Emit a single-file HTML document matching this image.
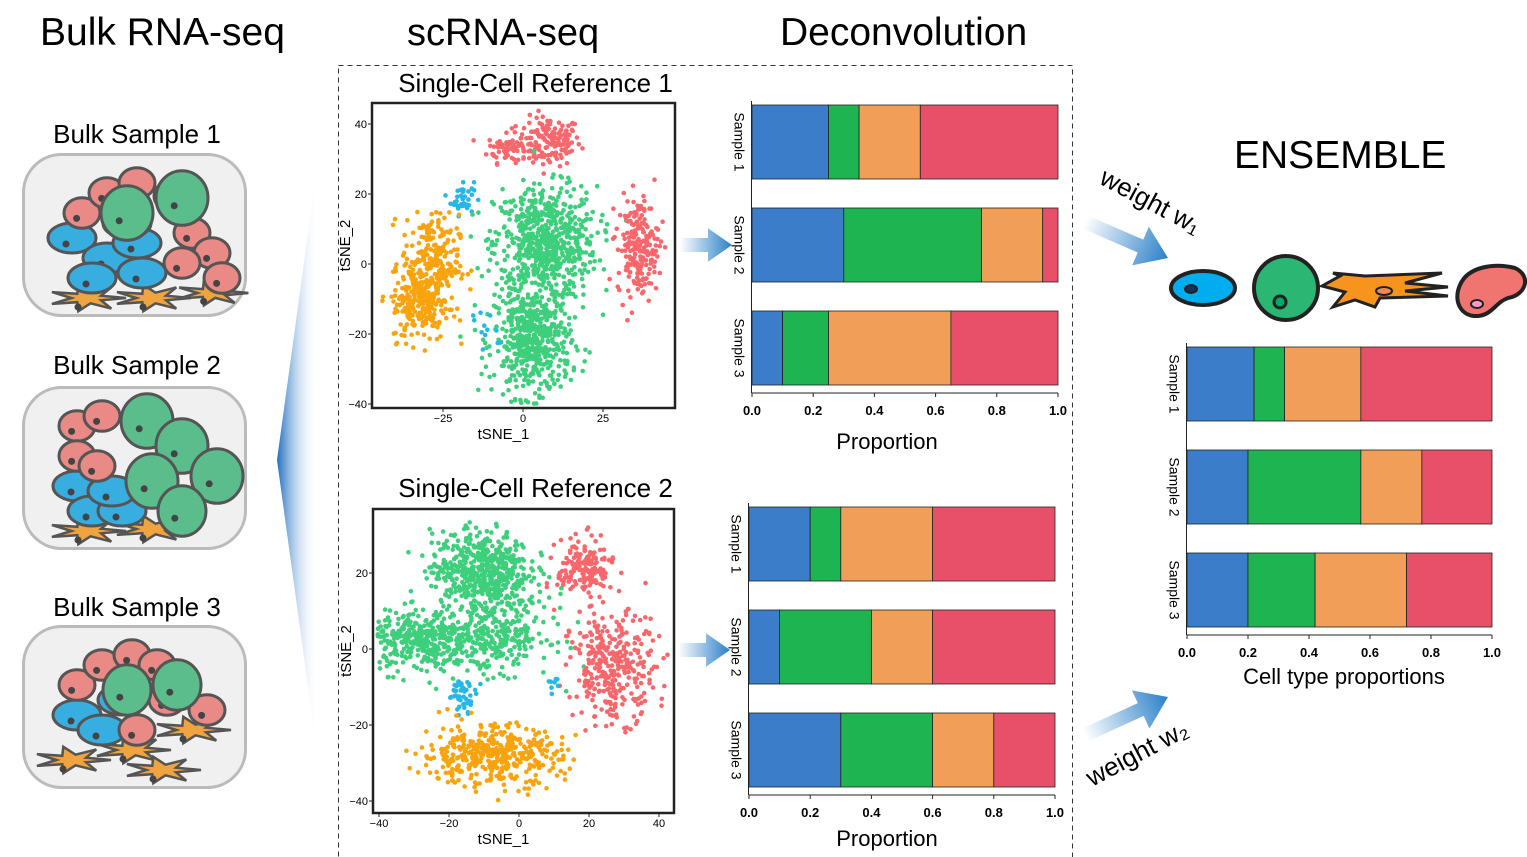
<!DOCTYPE html>
<html><head><meta charset="utf-8"><style>
body{margin:0;background:#fff}
svg{display:block;font-family:"Liberation Sans",sans-serif}
</style></head><body>
<svg id="fig" width="1527" height="857" viewBox="0 0 1527 857">
<defs>
<linearGradient id="triG" x1="0" x2="1" y1="0" y2="0"><stop offset="0" stop-color="#1f6fc0"/><stop offset="1" stop-color="#ffffff" stop-opacity="0"/></linearGradient>
<linearGradient id="arrG" x1="0" x2="1"><stop offset="0" stop-color="#ffffff"/><stop offset="1" stop-color="#2a80c8"/></linearGradient>
</defs>
<text x="40" y="45" font-size="39">Bulk RNA-seq</text>
<text x="407" y="45" font-size="38">scRNA-seq</text>
<text x="780" y="45" font-size="39">Deconvolution</text>
<text x="1234" y="168" font-size="39">ENSEMBLE</text>
<rect x="338.5" y="65.5" width="734" height="800" fill="none" stroke="#333" stroke-dasharray="5,4" stroke-width="1"/>
<polygon points="318,160 277,460 318,760" fill="url(#triG)"/>
<g id="bulk"></g>
<g id="tsne"></g>
<g id="bars"></g>
<g id="extra"></g>
</svg>
<script>
const NS="http://www.w3.org/2000/svg";
function mk(tag,attrs,parent,txt){const e=document.createElementNS(NS,tag);for(const k in attrs)e.setAttribute(k,attrs[k]);if(txt!==undefined)e.textContent=txt;parent.appendChild(e);return e;}

// ---------- bar chart data ----------
const cellTypes=["blue","green","orange","red"];
const barColors=["#3b7dc8","#1fb452","#f19e58","#e8506a"];
const sampleNames=["Sample 1","Sample 2","Sample 3"];
const axisTicks=[0,0.2,0.4,0.6,0.8,1.0];
const tickLabels=["0.0","0.2","0.4","0.6","0.8","1.0"];
const ref1Values=[[0.25,0.10,0.20,0.45],[0.30,0.45,0.20,0.05],[0.10,0.15,0.40,0.35]];
const ref2Values=[[0.20,0.10,0.30,0.40],[0.10,0.30,0.20,0.40],[0.30,0.30,0.20,0.20]];
const ensValues=[[0.22,0.10,0.25,0.43],[0.20,0.37,0.20,0.23],[0.20,0.22,0.30,0.28]];

function barChart(name,x0,x1,rowTops,rowH,tickY,label,labelX,labelY,vals,labelSize){
  const g=mk('g',{},document.getElementById('bars'));
  
  
  const sx=v=>x0+v*(x1-x0);
  vals.forEach((row,i)=>{
    let acc=0;const y=rowTops[i];
    row.forEach((v,j)=>{
      const r=mk('rect',{x:sx(acc),y:y,width:sx(acc+v)-sx(acc),height:rowH,fill:barColors[j],stroke:'#222','stroke-width':0.8},g);
      
      
      acc+=v;
    });
    const cx=x0-14,cy=y+rowH/2;
    const t=mk('text',{x:cx,y:cy,'font-size':14,'text-anchor':'middle',transform:`rotate(90 ${cx} ${cy})`,'dominant-baseline':'middle'},g,sampleNames[i]);
    
    
  });
  const last=rowTops[rowTops.length-1]+rowH;
  const ax=mk('line',{x1:x0-0.5,x2:x0-0.5,y1:rowTops[0]-4,y2:last+8,stroke:'#222','stroke-width':1},g);
  
  const bx=mk('line',{x1:x0,x2:x1,y1:last+8,y2:last+8,stroke:'#222','stroke-width':1},g);
  
  axisTicks.forEach((v,k)=>{
    mk('line',{x1:sx(v),x2:sx(v),y1:last+8,y2:last+12,stroke:'#222'},g);
    const t=mk('text',{x:sx(v),y:tickY,'font-size':13,'font-weight':'bold','text-anchor':'middle'},g,tickLabels[k]);
    
  });
  const l=mk('text',{x:labelX,y:labelY,'font-size':labelSize,'text-anchor':'middle'},g,label);
  
}
barChart('deconv-chart-1',752,1058,[105,208,311],74,415,'Proportion',887,449,ref1Values,22);
barChart('deconv-chart-2',749,1055,[507,610,713],74,817,'Proportion',887,846,ref2Values,22);
barChart('ensemble-chart',1187,1492,[347,450,553],74,657,'Cell type proportions',1344,684,ensValues,22);

// ---------- tSNE data ----------
// clusters: [cx, cy, sx, sy, count, colorIndex]
const tsneColors=["#f8676b","#26b7e9","#3ecf7c","#f9a30d"];
const ref1Clusters=[[8,35,5,3.5,150,0],[-5,33,3,2,60,0],[-19,19,1.8,2.5,40,1],[7,6,8,8,650,2],[3,-22,6,8,520,2],[-29,0,4.5,7,260,3],[-32,-12,4.5,5,180,3],[36,5,3.2,7,210,0],[-12,-20,2,4,12,1]];
const ref2Clusters=[[-11,21,7,5,520,2],[-28,2,7,4,340,2],[-7,4,8,5,320,2],[19,21,4,4,170,0],[27,-5,6,7,320,0],[-16,-12,2,2,45,1],[-8,-28,10,4,420,3],[10,-9,1.5,1.5,8,1]];
const ref1XTicks=[-25,0,25], ref1YTicks=[40,20,0,-20,-40];
const ref2XTicks=[-40,-20,0,20,40], ref2YTicks=[20,0,-20,-40];

let seed=12345;
function rnd(){seed=(seed*1103515245+12345)%2147483648;return seed/2147483648;}
function gauss(){let u=rnd()||1e-6,v=rnd();return Math.sqrt(-2*Math.log(u))*Math.cos(2*Math.PI*v);}

function tsne(name,title,titleY,fx,fy,fw,fh,x0px,xs,y0px,ys,clusters,xt,yt){
  const g=mk('g',{},document.getElementById('tsne'));
  
  
  const tt=mk('text',{x:fx+fw/2+12,y:titleY,'font-size':26,'text-anchor':'middle'},g,title);
  
  const X=v=>x0px+v*xs, Y=v=>y0px-v*ys;
  const pts=mk('g',{},g);
  
  clusters.forEach(c=>{
    for(let i=0;i<c[4];i++){
      const px=X(c[0]+gauss()*c[2]), py=Y(c[1]+gauss()*c[3]);
      if(px<fx+4||px>fx+fw-4||py<fy+4||py>fy+fh-4)continue;
      mk('circle',{cx:px.toFixed(1),cy:py.toFixed(1),r:2.3,fill:tsneColors[c[5]]},pts);
    }
  });
  const fr=mk('rect',{x:fx,y:fy,width:fw,height:fh,fill:'none',stroke:'#222','stroke-width':2.5},g);
  
  xt.forEach(v=>{mk('line',{x1:X(v),x2:X(v),y1:fy+fh,y2:fy+fh+4,stroke:'#222'},g);
    const t=mk('text',{x:X(v),y:fy+fh+14,'font-size':11,'text-anchor':'middle'},g,String(v).replace('-','−'));
    });
  yt.forEach(v=>{mk('line',{x1:fx-4,x2:fx,y1:Y(v),y2:Y(v),stroke:'#222'},g);
    const t=mk('text',{x:fx-5,y:Y(v)+4,'font-size':11,'text-anchor':'end'},g,String(v).replace('-','−'));
    });
  const xl=mk('text',{x:fx+fw/2-20,y:fy+fh+31,'font-size':15,'text-anchor':'middle'},g,'tSNE_1');
  
  const yx=fx-22,yy=fy+fh/2-10;
  const yl=mk('text',{x:yx,y:yy,'font-size':15,'text-anchor':'middle',transform:`rotate(-90 ${yx} ${yy})`},g,'tSNE_2');
  
}
tsne('tsne-reference-1','Single-Cell Reference 1',92,372,103,303,305,523,3.2,264,3.5,ref1Clusters,ref1XTicks,ref1YTicks);
tsne('tsne-reference-2','Single-Cell Reference 2',497,373,509,301,304,519,3.5,649,3.8,ref2Clusters,ref2XTicks,ref2YTicks);

// ---------- bulk samples ----------
const bulkG=document.getElementById('bulk');
const bulkBoxes=[[22,153,133],[22,386,364],[22,625,606]];
const bulkCells=[
 [["star",55,140,30],["star",120,140,30],["star",180,135,28],["blue",40,80,20],["blue",75,100,20],["blue",60,120,20],["blue",105,85,20],["blue",110,115,20],["blue",95,65,20],["red",50,55,18],["red",75,35,18],["red",105,25,18],["red",140,38,18],["red",160,75,18],["red",180,95,18],["red",150,105,18],["red",190,120,18],["green",95,55,26],["green",150,40,26]],
 [["star",55,140,30],["star",120,138,30],["blue",45,95,20],["blue",60,120,20],["blue",90,120,20],["blue",80,100,20],["red",45,35,18],["red",70,25,18],["red",45,65,18],["red",65,75,18],["green",115,30,26],["green",150,55,26],["green",120,90,26],["green",185,85,26],["green",150,120,24]],
 [["star",40,130,30],["star",100,120,30],["star",160,100,30],["star",130,140,30],["blue",45,85,20],["blue",70,100,20],["blue",90,70,20],["red",45,55,18],["red",70,35,18],["red",100,25,18],["red",125,35,18],["red",135,70,18],["red",105,100,18],["red",175,80,18],["green",95,60,24],["green",145,55,24]]
];
const cellFill={red:"#e98a86",green:"#5bbd8b",blue:"#38ade0",star:"#f0a43f"};
function starPts(x,y,s){const p=[];for(let i=0;i<14;i++){const a=i/14*Math.PI*2;const r=i%2?s*0.4:s;p.push((x+r*Math.cos(a)*1.3).toFixed(1)+','+(y+r*Math.sin(a)*0.45).toFixed(1));}return p.join(' ');}
bulkBoxes.forEach((b,i)=>{
  const g=mk('g',{},bulkG);
  
  
  const lt=mk('text',{x:137,y:b[2]+10,'font-size':26,'text-anchor':'middle'},g,'Bulk Sample '+(i+1));
  
  mk('rect',{x:b[0]+1.5,y:b[1]+1.5,width:222,height:161,rx:38,fill:'#f0f0f0',stroke:'#bbb','stroke-width':3},g);
  bulkCells[i].forEach(c=>{
    const x=b[0]+c[1]+10,y=b[1]+c[2]+5,s=c[3];
    if(c[0]==='star')mk('polygon',{points:starPts(x,y,s),fill:cellFill.star,stroke:'#555','stroke-width':2.5},g);
    else if(c[0]==='blue')mk('ellipse',{cx:x,cy:y,rx:s*1.2,ry:s*0.75,fill:cellFill.blue,stroke:'#555','stroke-width':3},g);
    else if(c[0]==='red')mk('ellipse',{cx:x,cy:y,rx:s,ry:s*0.85,fill:cellFill.red,stroke:'#555','stroke-width':3},g);
    else mk('ellipse',{cx:x,cy:y,rx:s,ry:s*1.05,fill:cellFill.green,stroke:'#555','stroke-width':3},g);
    mk('circle',{cx:x-s*0.3,cy:y+s*0.3,r:3.5,fill:'#444'},g);
  });
});

// ---------- arrows, icons ----------
const ex=document.getElementById('extra');
function arrow(name,x1,y1,x2,y2,w,head){
  const ang=Math.atan2(y2-y1,x2-x1)*180/Math.PI;const L=Math.hypot(x2-x1,y2-y1);
  const g=mk('g',{transform:`translate(${x1} ${y1}) rotate(${ang})`},ex);
  
  mk('polygon',{points:`0,${-w/2} ${L-head},${-w/2} ${L-head},${-head*0.7} ${L},0 ${L-head},${head*0.7} ${L-head},${w/2} 0,${w/2}`,fill:'url(#arrG)'},g);
}
arrow('arrow-ref1',680,245,732,245,14,24);
arrow('arrow-ref2',678,650,730,650,14,24);
arrow('arrow-weight-1',1085,222,1168,258,14,30);
arrow('arrow-weight-2',1085,735,1168,697,14,30);
const w1=mk('text',{x:1098,y:183,'font-size':26,transform:'rotate(28 1098 183)'},ex,'weight w₁');

const w2=mk('text',{x:1092,y:787,'font-size':26,transform:'rotate(-28 1092 787)'},ex,'weight w₂');


const icons=mk('g',{},ex);

mk('ellipse',{cx:1203,cy:288,rx:32,ry:17,fill:'#00aeef',stroke:'#222','stroke-width':4},icons);
mk('ellipse',{cx:1191,cy:289,rx:6,ry:4,fill:'#135',stroke:'#222','stroke-width':2},icons);
mk('circle',{cx:1286,cy:288,r:32,fill:'#2bb673',stroke:'#222','stroke-width':4},icons);
mk('circle',{cx:1280,cy:302,r:6,fill:'#0a6',stroke:'#222','stroke-width':3},icons);
mk('polygon',{points:'1322,286 1340,276 1333,273 1365,276 1442,273 1405,283 1448,287 1405,291 1448,296 1380,298 1375,307 1355,300 1333,307 1345,292',fill:'#f7941d',stroke:'#222','stroke-width':3},icons);
mk('ellipse',{cx:1384,cy:291,rx:8,ry:4,fill:'#e85',stroke:'#222','stroke-width':2},icons);
mk('path',{d:'M1460,285 C1468,266 1495,263 1515,268 C1532,276 1526,295 1508,298 C1496,302 1492,315 1478,316 C1460,317 1453,300 1460,285 Z',fill:'#f07470',stroke:'#222','stroke-width':4},icons);
mk('ellipse',{cx:1477,cy:304,rx:6,ry:4,fill:'#f9c',stroke:'#222','stroke-width':2},icons);
</script>
</body></html>
